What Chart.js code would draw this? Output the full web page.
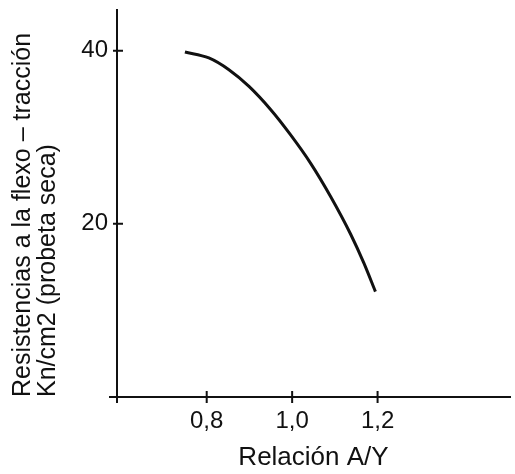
<html>
<head>
    <style>
        body { margin: 0; background: #fff; }
        #myChart { display: block; }
    </style>
    <script src="https://cdn.jsdelivr.net/npm/chart.js@4"></script>
</head>
<body>
<canvas id="myChart" width="515" height="474"></canvas>
<script>
    // values
    var relacion = [0.749, 0.805, 0.852, 0.899, 0.950, 0.996, 1.043, 1.090, 1.137, 1.168, 1.195];
    var resistencia = [39.85, 39.16, 37.8, 35.87, 33.18, 30.3, 27.02, 23.16, 18.8, 15.46, 12.17];

    var x_ticks = [0.8, 1.0, 1.2];
    var y_ticks = [20, 40];

    var x_title = "Relación A/Y";
    var y_title = ["Resistencias a la flexo \u2013 tracción", "Kn/cm2 (probeta seca)"];

    var ink = "#111";
    var font_family = "'Liberation Sans', Arial, sans-serif";

    // small ticks that cross the axis lines
    var crossTicks = {
        id: "crossTicks",
        afterDraw: function (chart) {
            var ctx = chart.ctx;
            var xs = chart.scales.x;
            var ys = chart.scales.y;
            var area = chart.chartArea;
            ctx.save();
            ctx.strokeStyle = ink;
            ctx.lineWidth = 2;
            ctx.beginPath();
            for (var i = 0; i < xs.ticks.length; i++) {
                var px = xs.getPixelForValue(xs.ticks[i].value);
                ctx.moveTo(px, area.bottom - 6);
                ctx.lineTo(px, area.bottom + 6);
            }
            for (var j = 0; j < ys.ticks.length; j++) {
                var py = ys.getPixelForValue(ys.ticks[j].value);
                ctx.moveTo(area.left - 4, py);
                ctx.lineTo(area.left + 6, py);
            }
            // axis lines run a little past the corner
            ctx.moveTo(area.left, area.bottom);
            ctx.lineTo(area.left, area.bottom + 6);
            ctx.moveTo(area.left - 8, area.bottom);
            ctx.lineTo(area.left, area.bottom);
            ctx.stroke();
            ctx.restore();
        }
    };

    var points = [];
    for (var i = 0; i < relacion.length; i++) {
        points.push({ x: relacion[i], y: resistencia[i] });
    }

    var ctx = document.getElementById("myChart").getContext("2d");
    var chart = new Chart(ctx, {
        type: "line",
        data: {
            datasets: [{
                data: points,
                borderColor: ink,
                borderWidth: 3,
                pointRadius: 0,
                fill: false,
                cubicInterpolationMode: "monotone"
            }]
        },
        options: {
            responsive: false,
            animation: false,
            layout: { padding: { top: 10, right: 5, left: 0, bottom: 0 } },
            plugins: {
                legend: { display: false },
                tooltip: { enabled: false }
            },
            scales: {
                x: {
                    type: "linear",
                    min: 0.59,
                    max: 1.51,
                    afterBuildTicks: function (scale) {
                        scale.ticks = x_ticks.map(function (v) { return { value: v }; });
                    },
                    afterFit: function (scale) {
                        scale.height = 77;
                        scale.paddingLeft = 0;
                        scale.paddingRight = 0;
                    },
                    grid: { display: false, drawTicks: false },
                    border: { display: true, color: ink, width: 2 },
                    ticks: {
                        padding: 10,
                        color: ink,
                        maxRotation: 0,
                        font: { family: font_family, size: 24 },
                        callback: function (v) { return v.toFixed(1).replace(".", ","); }
                    },
                    title: {
                        display: true,
                        text: x_title,
                        color: ink,
                        font: { family: font_family, size: 26 },
                        padding: { top: 0, bottom: 1 }
                    }
                },
                y: {
                    min: 0,
                    max: 44.7,
                    afterBuildTicks: function (scale) {
                        scale.ticks = y_ticks.map(function (v) { return { value: v }; });
                    },
                    afterFit: function (scale) {
                        scale.width = 117;
                        scale.paddingTop = 0;
                        scale.paddingBottom = 0;
                    },
                    grid: { display: false, drawTicks: false },
                    border: { display: true, color: ink, width: 2 },
                    ticks: {
                        padding: 9,
                        color: ink,
                        font: { family: font_family, size: 24 }
                    },
                    title: {
                        display: true,
                        text: y_title,
                        align: "start",
                        color: ink,
                        font: { family: font_family, size: 25, lineHeight: 1.0 },
                        padding: { top: 11, bottom: 0 }
                    }
                }
            }
        },
        plugins: [crossTicks]
    });
</script>
</body>
</html>
